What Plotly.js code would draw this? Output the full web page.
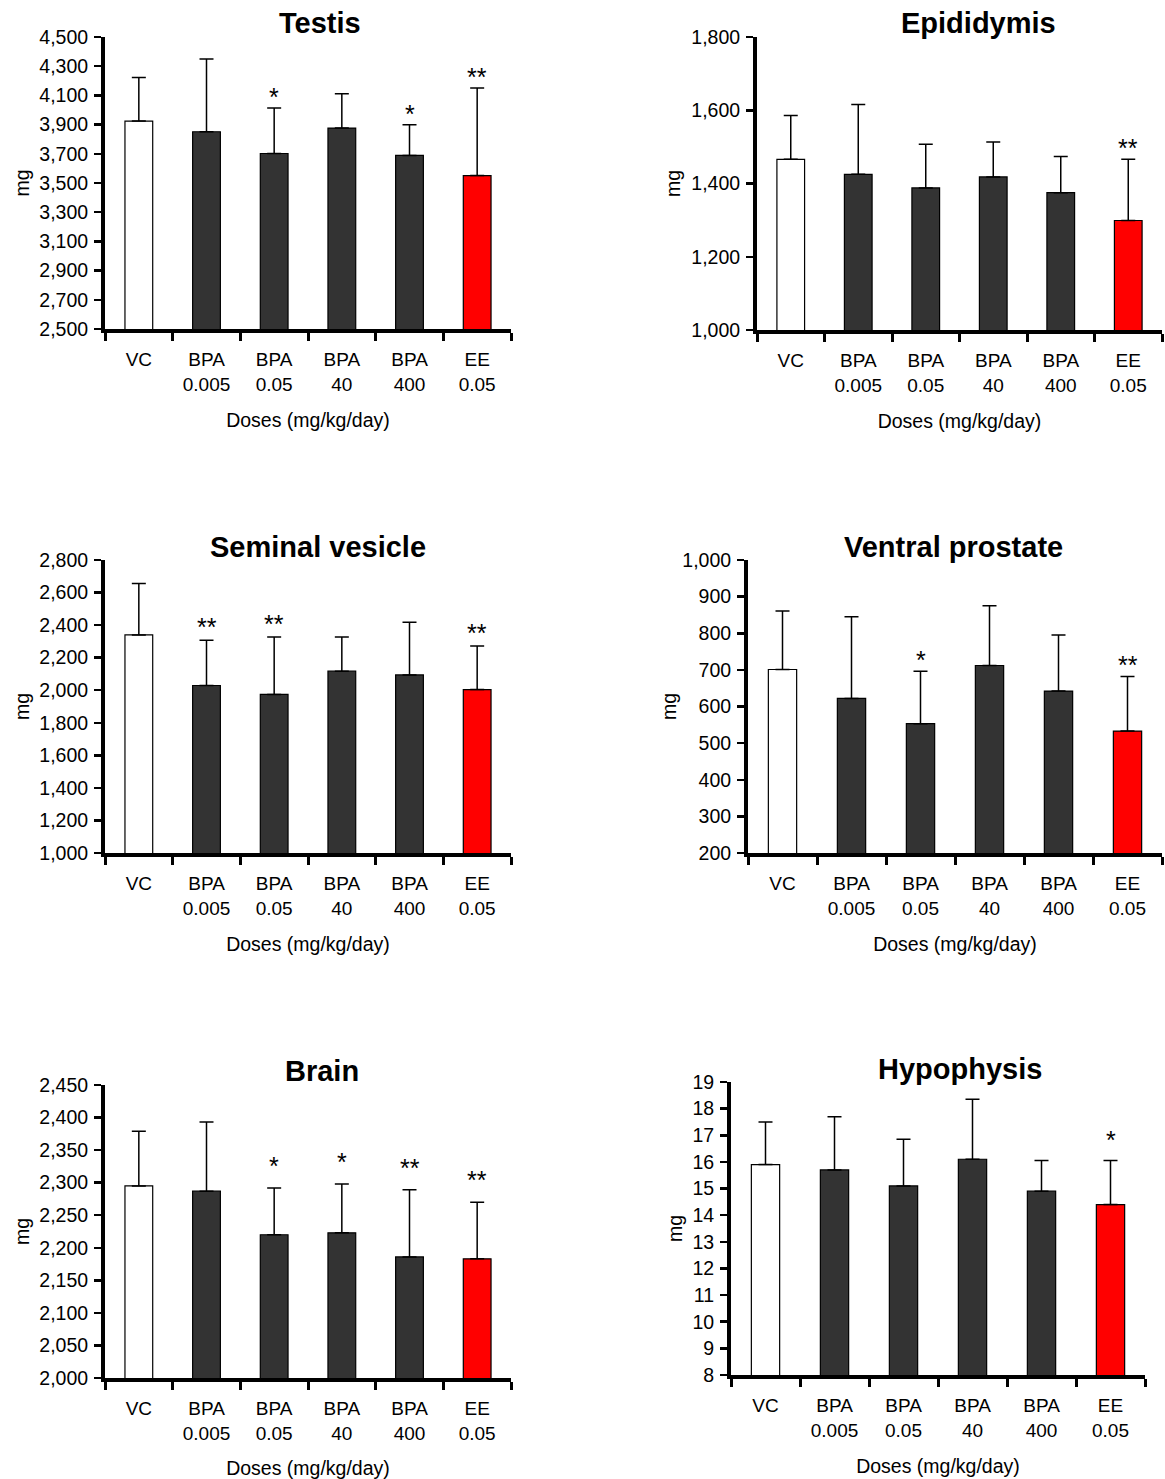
<!DOCTYPE html>
<html><head><meta charset="utf-8">
<script src="https://cdn.plot.ly/plotly-3.0.1.min.js"></script>
<style>html,body{margin:0;padding:0;background:#fff;} #chart{width:1165px;height:1479px;}</style>
</head><body><div id="chart"></div>
<script>
// ---- data ----
const groupLine1 = ["VC", "BPA", "BPA", "BPA", "BPA", "EE"];
const groupLine2 = ["", "0.005", "0.05", "40", "400", "0.05"];
const xAxisTitle = "Doses (mg/kg/day)";
const yAxisTitle = "mg";

const panelTitles = ["Testis", "Epididymis", "Seminal vesicle", "Ventral prostate", "Brain", "Hypophysis"];

const testisMean = [3924, 3851, 3702, 3876, 3689, 3551];
const testisSD   = [299, 498, 311, 235, 210, 599];
const testisSig  = ["", "", "*", "", "*", "**"];

const epididymisMean = [1466, 1425, 1388, 1418, 1375, 1299];
const epididymisSD   = [120, 191, 119, 95, 99, 167];
const epididymisSig  = ["", "", "", "", "", "**"];

const seminalMean = [2340, 2029, 1974, 2117, 2094, 2004];
const seminalSD   = [315, 278, 353, 210, 323, 268];
const seminalSig  = ["", "**", "**", "", "", "**"];

const prostateMean = [701, 622, 553, 712, 642, 533];
const prostateSD   = [160, 223, 143, 163, 153, 149];
const prostateSig  = ["", "", "*", "", "", "**"];

const brainMean = [2295, 2287, 2220, 2223, 2186, 2183];
const brainSD   = [84, 106, 72, 75, 103, 87];
const brainSig  = ["", "", "*", "*", "**", "**"];

const hypophysisMean = [15.9, 15.7, 15.1, 16.1, 14.9, 14.4];
const hypophysisSD   = [1.6, 2.0, 1.75, 2.25, 1.15, 1.65];
const hypophysisSig  = ["", "", "", "", "", "*"];

// axis ranges and tick steps
const yRanges = [[2500, 4500], [1000, 1800], [1000, 2800], [200, 1000], [2000, 2450], [8, 19]];
const yDticks = [200, 200, 200, 100, 50, 1];

// ---- layout / style ----
const W = 1165, H = 1479;
const FONT = "Liberation Sans, Arial, Helvetica, sans-serif";
const barFill = ["#ffffff", "#333333", "#333333", "#333333", "#333333", "#ff0000"];
// plot boxes in pixels: [left, right, top, bottom]
const boxes = [
  [105, 511, 37, 329], [757, 1162, 37, 330],
  [105, 511, 560, 853], [748, 1162, 560, 853],
  [105, 511, 1085, 1378], [731, 1145, 1082, 1375]
];
const titlePos = [[320, 23], [978, 23], [318, 547], [953, 547], [322, 1071], [960, 1069]];
const starShift = [11, 11, 13, 11, 22, 21];
const yTitleStandoff = [5, 6, 5, 1, 5, 6];

const means = [testisMean, epididymisMean, seminalMean, prostateMean, brainMean, hypophysisMean];
const sds = [testisSD, epididymisSD, seminalSD, prostateSD, brainSD, hypophysisSD];
const sigs = [testisSig, epididymisSig, seminalSig, prostateSig, brainSig, hypophysisSig];

const categories = groupLine1.map((a, i) => groupLine2[i] ? a + "<br>" + groupLine2[i] : a);

const traces = [];
const layout = {
  width: W, height: H,
  margin: {l: 0, r: 0, t: 0, b: 0},
  paper_bgcolor: "#fff", plot_bgcolor: "#fff",
  showlegend: false,
  font: {family: FONT, size: 19, color: "#000"},
  annotations: []
};

for (let p = 0; p < 6; p++) {
  const n = p === 0 ? "" : String(p + 1);
  const [L, R, T, B] = boxes[p];
  traces.push({
    type: "bar",
    x: categories,
    y: means[p],
    xaxis: "x" + n, yaxis: "y" + n,
    width: 0.41,
    marker: {color: barFill, line: {color: "#000", width: 1.2}},
    error_y: {type: "data", symmetric: false, array: sds[p], arrayminus: sds[p].map(() => 0),
              color: "#000", thickness: 1.5, width: 7},
    hoverinfo: "skip"
  });
  layout["xaxis" + n] = {
    domain: [L / W, R / W], anchor: "y" + n,
    type: "category", range: [-0.5, 5.5],
    showline: true, linecolor: "#000", linewidth: 4,
    ticks: "outside", tickson: "boundaries", ticklen: 8, tickwidth: 3, tickcolor: "#000",
    tickfont: {family: FONT, size: 19, color: "#000"},
    ticklabelstandoff: 10,
    showgrid: false, zeroline: false, fixedrange: true,
    title: {text: xAxisTitle, font: {family: FONT, size: 19.5, color: "#000"}, standoff: 21}
  };
  layout["yaxis" + n] = {
    domain: [1 - B / H, 1 - T / H], anchor: "x" + n,
    range: yRanges[p], tick0: yRanges[p][0], dtick: yDticks[p], tickformat: ",",
    showline: true, linecolor: "#000", linewidth: 4,
    ticks: "outside", ticklen: 7, tickwidth: 2.5, tickcolor: "#000",
    tickfont: {family: FONT, size: 19.5, color: "#000"},
    ticklabelstandoff: 2,
    showgrid: false, zeroline: false, fixedrange: true,
    title: {text: yAxisTitle, font: {family: FONT, size: 19.5, color: "#000"}, standoff: yTitleStandoff[p]}
  };
  layout.annotations.push({
    xref: "paper", yref: "paper", x: titlePos[p][0] / W, y: 1 - titlePos[p][1] / H,
    xanchor: "center", yanchor: "middle", showarrow: false,
    text: "<b>" + panelTitles[p] + "</b>", font: {family: FONT, size: 29, color: "#000"}
  });
  sigs[p].forEach((s, i) => {
    if (!s) return;
    layout.annotations.push({
      xref: "x" + n, yref: "y" + n, x: categories[i], y: means[p][i] + sds[p][i],
      xanchor: "center", yanchor: "middle", yshift: starShift[p], showarrow: false,
      text: s, font: {family: FONT, size: 25, color: "#000"}
    });
  });
}

Plotly.newPlot("chart", traces, layout, {displayModeBar: false, staticPlot: true});
</script>
</body></html>
